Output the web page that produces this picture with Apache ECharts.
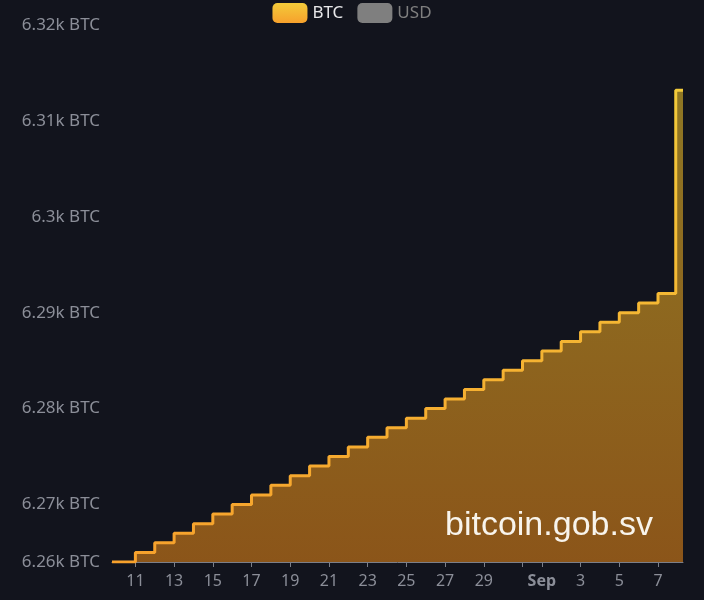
<!DOCTYPE html>
<html>
<head>
<meta charset="utf-8">
<script src="https://cdn.jsdelivr.net/npm/echarts@6/dist/echarts.min.js"></script>
<style>
html,body{margin:0;padding:0;background:#12141d;}
#c{width:704px;height:600px;}
</style>
</head>
<body>
<div id="c"></div>
<script>
const dates = ['2022-08-09T19:00','2022-08-11T00:00','2022-08-12T00:00','2022-08-13T00:00','2022-08-14T00:00','2022-08-15T00:00','2022-08-16T00:00','2022-08-17T00:00','2022-08-18T00:00','2022-08-19T00:00','2022-08-20T00:00','2022-08-21T00:00','2022-08-22T00:00','2022-08-23T00:00','2022-08-24T00:00','2022-08-25T00:00','2022-08-26T00:00','2022-08-27T00:00','2022-08-28T00:00','2022-08-29T00:00','2022-08-30T00:00','2022-08-31T00:00','2022-09-01T00:00','2022-09-02T00:00','2022-09-03T00:00','2022-09-04T00:00','2022-09-05T00:00','2022-09-06T00:00','2022-09-07T00:00','2022-09-07T22:00','2022-09-08T07:00'];
const btc = [6264,6265,6266,6267,6268,6269,6270,6271,6272,6273,6274,6275,6276,6277,6278,6279,6280,6281,6282,6283,6284,6285,6286,6287,6288,6289,6290,6291,6292,6313.2,6313.2];
const legendNames = ['BTC','USD'];
const monthNames = ['Jan','Feb','Mar','Apr','May','Jun','Jul','Aug','Sep','Oct','Nov','Dec'];
const hiddenDays = [31];
const watermark = 'bitcoin.gob.sv';

const chart = echarts.init(document.getElementById('c'), null, {renderer:'canvas'});
const lineGrad = new echarts.graphic.LinearGradient(0,0,0,1,[{offset:0,color:'#f3cb3a'},{offset:1,color:'#f7a12c'}]);
const areaGrad = new echarts.graphic.LinearGradient(0,0,0,1,[{offset:0,color:'rgba(255,208,42,0.53)'},{offset:1,color:'rgba(247,143,22,0.53)'}]);
const seriesData = dates.map((d,i)=>[d,btc[i]]);
const yMin = Math.min.apply(null, btc);

chart.setOption({
  backgroundColor:'#12141d',
  animation:false,
  legend:{
    data:legendNames,
    top:-2,
    left:'center',
    icon:'roundRect',
    itemWidth:35,
    itemHeight:20,
    itemGap:14,
    inactiveColor:'#7f7f7f',
    textStyle:{color:'#e8e8ea',fontSize:17,fontFamily:'Noto Sans'},
    selected:{USD:false}
  },
  grid:{left:112,right:21,top:25,bottom:38},
  xAxis:{
    type:'time',
    min:'dataMin',
    max:'dataMax',
    splitNumber:14,
    axisLine:{lineStyle:{color:'#7c7f88',width:1}},
    axisTick:{show:true,length:5,lineStyle:{color:'#7c7f88'}},
    axisLabel:{
      color:'#8b8e98',fontSize:16,fontFamily:'Noto Sans',margin:11,
      formatter:function(v){
        const d = new Date(v);
        const day = d.getDate();
        if (day === 1) return '{b|' + monthNames[d.getMonth()] + '}';
        if (hiddenDays.indexOf(day) >= 0) return '';
        return String(day);
      },
      rich:{b:{fontWeight:'bold',color:'#8b8e98',fontSize:16,fontFamily:'Noto Sans'}}
    },
    splitLine:{show:false}
  },
  yAxis:{
    type:'value',
    min:yMin,
    max:6320,
    axisLine:{show:false},
    axisTick:{show:false},
    splitLine:{show:false},
    axisLabel:{
      color:'#8b8e98',fontSize:17,fontFamily:'Noto Sans',margin:12,
      formatter:v=>parseFloat((v/1000).toFixed(2))+'k BTC'
    }
  },
  graphic:[{
    type:'text',
    left:445,
    top:509,
    z:10,
    style:{text:watermark,fill:'#f8f4ec',font:'34px "Liberation Sans", Arial, sans-serif'}
  }],
  series:[{
    name:'BTC',
    type:'line',
    step:'end',
    symbol:'none',
    data:seriesData,
    itemStyle:{color:lineGrad},
    lineStyle:{color:lineGrad,width:3},
    areaStyle:{color:areaGrad,opacity:1}
  },{
    name:'USD',
    type:'line',
    data:[],
    itemStyle:{color:'#808080'}
  }]
});
</script>
</body>
</html>
